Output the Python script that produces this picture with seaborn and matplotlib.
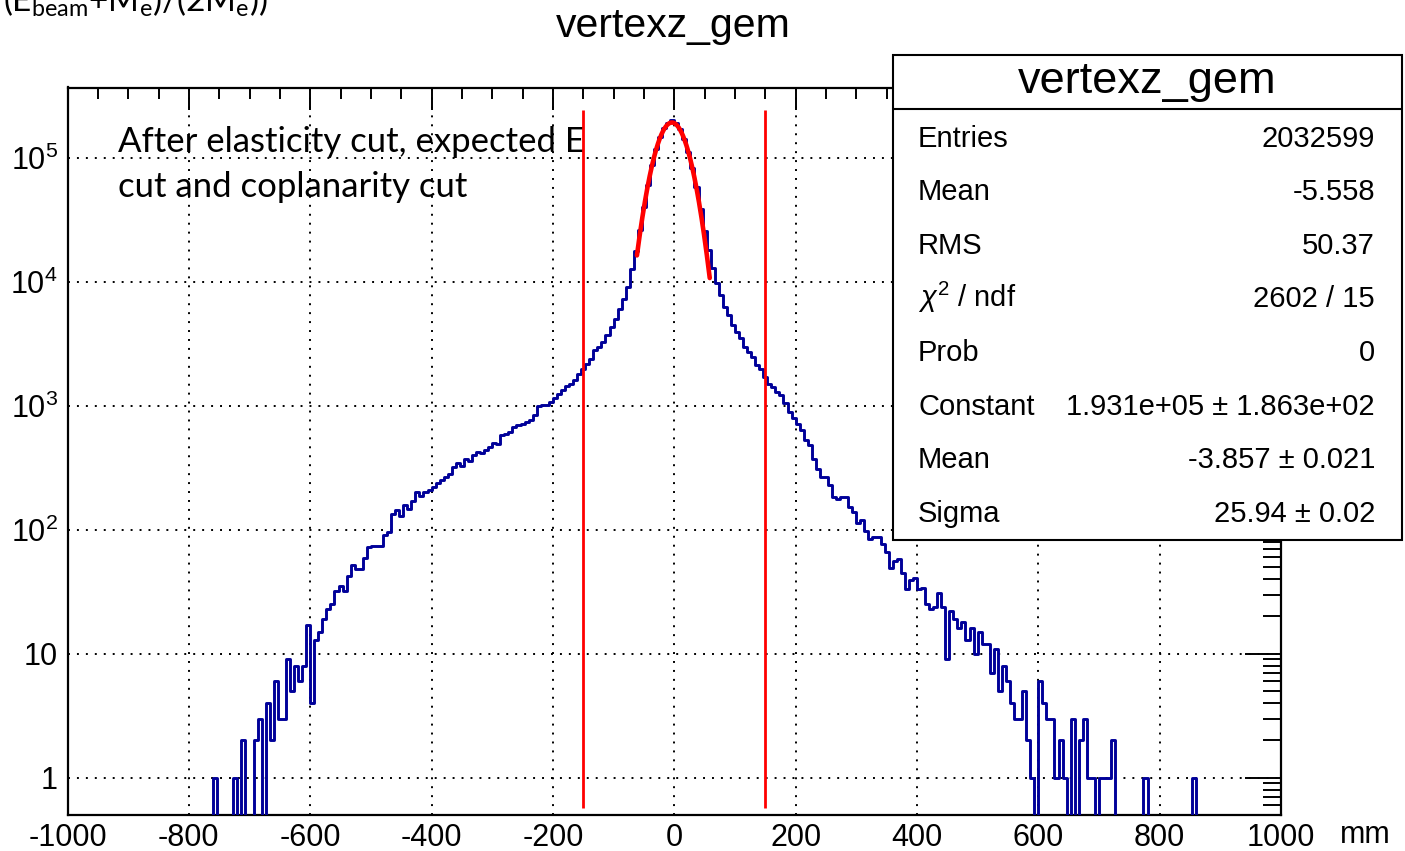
import numpy as np
import pandas as pd
import matplotlib
matplotlib.use("Agg")
import matplotlib.pyplot as plt
import seaborn as sns
from matplotlib.patches import Rectangle
from matplotlib.lines import Line2D
from matplotlib.ticker import MultipleLocator, LogLocator, FuncFormatter, NullFormatter

# ---------------- histogram: vertex z from the GEM tracks ----------------
z_min, z_max, n_bins = -1000.0, 1000.0, 300
first_filled_bin = 36

# bin contents, from bin 36 (z = -760 mm) upward
counts_left_tail = [1, 0, 0, 0, 0, 1, 0, 2, 0, 0, 2, 3, 0, 4, 2, 6, 3, 3, 9, 5,
                    8, 6, 8, 17, 4, 13, 15, 19, 23, 25, 32, 35, 32, 42, 52, 48,
                    48, 59, 72, 74, 74, 74, 91, 96, 133, 144, 129, 158, 147, 170,
                    203, 186, 203]
counts_left_shoulder = [210, 222, 240, 250, 265, 283, 320, 345, 330, 374, 362,
                        398, 426, 420, 437, 465, 505, 488, 577, 596, 615, 675,
                        696, 718, 741, 764, 838, 990, 1010, 1010, 1072, 1155,
                        1253, 1333, 1449, 1513, 1608, 1822, 1974, 2160, 2390,
                        2800, 3000, 3300, 3700, 4300, 5000, 6000, 7300, 9100,
                        12800, 17600]
counts_core = [26000, 40500, 61000, 88000, 118000, 148000, 174000, 192000,
               201000, 192000, 171000, 143000, 112000, 83000, 58000, 38500,
               25500, 18100]
counts_right_shoulder = [12900, 9740, 7840, 6310, 5400, 4480, 3960, 3500, 2995,
                         2730, 2485, 2128, 2000, 1713, 1513, 1422, 1295, 1216,
                         1050, 900, 800, 720, 640, 529, 480, 374, 310, 266, 266,
                         228, 184, 178, 184, 184, 152, 138, 113, 119, 98, 85, 88,
                         88, 77, 66, 49, 56, 58, 45, 33, 39, 41, 33, 34, 25, 23,
                         24, 31, 24, 9]
counts_right_tail = [22, 19, 16, 18, 13, 16, 10, 15, 12, 12, 7, 11, 5, 8, 6, 4,
                     3, 3, 5, 2, 1, 0, 6, 4, 3, 3, 1, 2, 1, 0, 3, 0, 2, 3, 1, 1,
                     0, 1, 1, 1, 2, 0, 0, 0, 0, 0, 0, 0, 1, 0, 0, 0, 0, 0, 0, 0,
                     0, 0, 0, 0, 1]

# Gaussian fit (stat box values) and cut positions
fit_const, fit_mean, fit_sigma = 1.931e5, -3.857, 25.94
fit_lo, fit_hi = -61.5, 58.5
cut_positions = [-150.0, 150.0]

stat_labels = ["Entries", "Mean", "RMS", r"$\chi^{2}$ / ndf", "Prob",
               "Constant", "Mean", "Sigma"]
stat_values = ["2032599", "-5.558", "50.37", "2602 / 15", "0",
               "1.931e+05 \u00b1 1.863e+02", "-3.857 \u00b1 0.021",
               "25.94 \u00b1 0.02"]

# ---------------- assemble the table ----------------
filled = (counts_left_tail + counts_left_shoulder + counts_core
          + counts_right_shoulder + counts_right_tail)
counts = np.zeros(n_bins)
counts[first_filled_bin:first_filled_bin + len(filled)] = filled
edges = np.linspace(z_min, z_max, n_bins + 1)
centers = 0.5 * (edges[:-1] + edges[1:])
hist_df = pd.DataFrame({"vertexz": centers, "entries": counts})

zf = np.linspace(fit_lo, fit_hi, 400)
fit_df = pd.DataFrame({"z": zf,
                       "f": fit_const * np.exp(-0.5 * ((zf - fit_mean) / fit_sigma) ** 2)})

# ---------------- style ----------------
sns.set_style("white")
plt.rcParams["font.family"] = ["Liberation Sans", "DejaVu Sans"]
plt.rcParams["mathtext.fontset"] = "custom"
plt.rcParams["mathtext.rm"] = "Liberation Sans"
plt.rcParams["mathtext.it"] = "Liberation Sans:italic"
plt.rcParams["mathtext.bf"] = "Liberation Sans:bold"
plt.rcParams["mathtext.sf"] = "Lato"
for key in ["text.color", "axes.labelcolor", "xtick.color", "ytick.color",
            "axes.edgecolor"]:
    plt.rcParams[key] = "black"

W, H = 1405, 851
fig = plt.figure(figsize=(W / 100, H / 100), dpi=100)
fig.patch.set_facecolor("white")


def fx(px):
    return px / W


def fy(py):
    return 1 - py / H


left, right, top, bottom = 67.5, 1281.0, 87.5, 815.0
ax = fig.add_axes([fx(left), fy(bottom), fx(right) - fx(left), fy(top) - fy(bottom)])
ax.set_yscale("log")

hist_blue = "#000099"
sns.histplot(data=hist_df, x="vertexz", weights="entries", bins=n_bins,
             binrange=(z_min, z_max), element="step", fill=False,
             color=hist_blue, linewidth=2.1, ax=ax, zorder=3)
sns.lineplot(data=fit_df, x="z", y="f", color="red", linewidth=3.3, ax=ax,
             zorder=4)
ax.vlines(cut_positions, 0.57, 2.45e5, color="red", linewidth=2.0, zorder=5)

ax.set_xlim(z_min, z_max)
ax.set_ylim(0.5, 3.7e5)
ax.set_xlabel("")
ax.set_ylabel("")

# axes frame and ticks
for s in ax.spines.values():
    s.set_visible(True)
    s.set_linewidth(1.6)
    s.set_color("black")

ax.xaxis.set_major_locator(MultipleLocator(200))
ax.xaxis.set_minor_locator(MultipleLocator(50))
ax.yaxis.set_major_locator(LogLocator(base=10, numticks=20))
ax.yaxis.set_minor_locator(LogLocator(base=10, subs=np.arange(2, 10), numticks=20))
ax.yaxis.set_minor_formatter(NullFormatter())


def ylab(v, pos):
    e = int(round(np.log10(v)))
    if e == 0:
        return "1"
    if e == 1:
        return "10"
    return r"$\mathregular{10^{%d}}$" % e


ax.yaxis.set_major_formatter(FuncFormatter(ylab))
ax.xaxis.set_major_formatter(FuncFormatter(lambda v, p: "%d" % v))

ax.tick_params(which="both", direction="in", top=True, right=True,
               color="black", labelcolor="black", width=1.4, labelsize=22)
ax.xaxis.set_tick_params(which="major", length=16, pad=6)
ax.xaxis.set_tick_params(which="minor", length=8)
ax.yaxis.set_tick_params(which="major", length=26, pad=7)
ax.yaxis.set_tick_params(which="minor", length=13)

ax.grid(True, which="major", color="black", linestyle=(0, (1.0, 3.6)),
        linewidth=1.4, zorder=1)
ax.set_axisbelow(True)

# x-axis unit
fig.text(fx(1340), fy(835), "mm", fontsize=22, va="center", ha="left",
         color="black")

# histogram title
fig.text(fx(673.5), fy(37), "vertexz_gem", fontsize=29.5, ha="center",
         va="baseline", color="black")

# selection note
ax.text(fx(118), fy(152), "After elasticity cut, expected E",
        transform=fig.transFigure, fontsize=25, family="Lato", va="baseline",
        color="black", zorder=2)
ax.text(fx(118), fy(197), "cut and coplanarity cut",
        transform=fig.transFigure, fontsize=25, family="Lato", va="baseline",
        color="black", zorder=2)

# leftover formula at the top edge
fig.text(fx(3), fy(12), r"$\mathsf{(E_{beam}{+}M_{e})/(2M_{e}))}$",
         fontsize=24, va="baseline", ha="left", color="black")

# ---------------- statistics box ----------------
bx0, bx1, by0, by1 = 892.5, 1401.5, 55.0, 539.5
box = Rectangle((fx(bx0), fy(by1)), fx(bx1) - fx(bx0), fy(by0) - fy(by1),
                transform=fig.transFigure, facecolor="white",
                edgecolor="black", linewidth=1.5, zorder=10)
fig.add_artist(box)
fig.add_artist(Line2D([fx(bx0), fx(bx1)], [fy(109.3), fy(109.3)],
                      transform=fig.transFigure, color="black",
                      linewidth=1.5, zorder=11))
fig.text(fx(1147.5), fy(93), "vertexz_gem", fontsize=32.5, ha="center",
         va="baseline", color="black", zorder=12)

row0, row_step = 146.7, 53.57
for i, (lab, val) in enumerate(zip(stat_labels, stat_values)):
    yb = row0 + i * row_step
    fig.text(fx(918), fy(yb), lab, fontsize=21, ha="left", va="baseline",
             color="black", zorder=12)
    fig.text(fx(1375), fy(yb), val, fontsize=21, ha="right", va="baseline",
             color="black", zorder=12)

fig.savefig("out.png", dpi=100, facecolor="white")
